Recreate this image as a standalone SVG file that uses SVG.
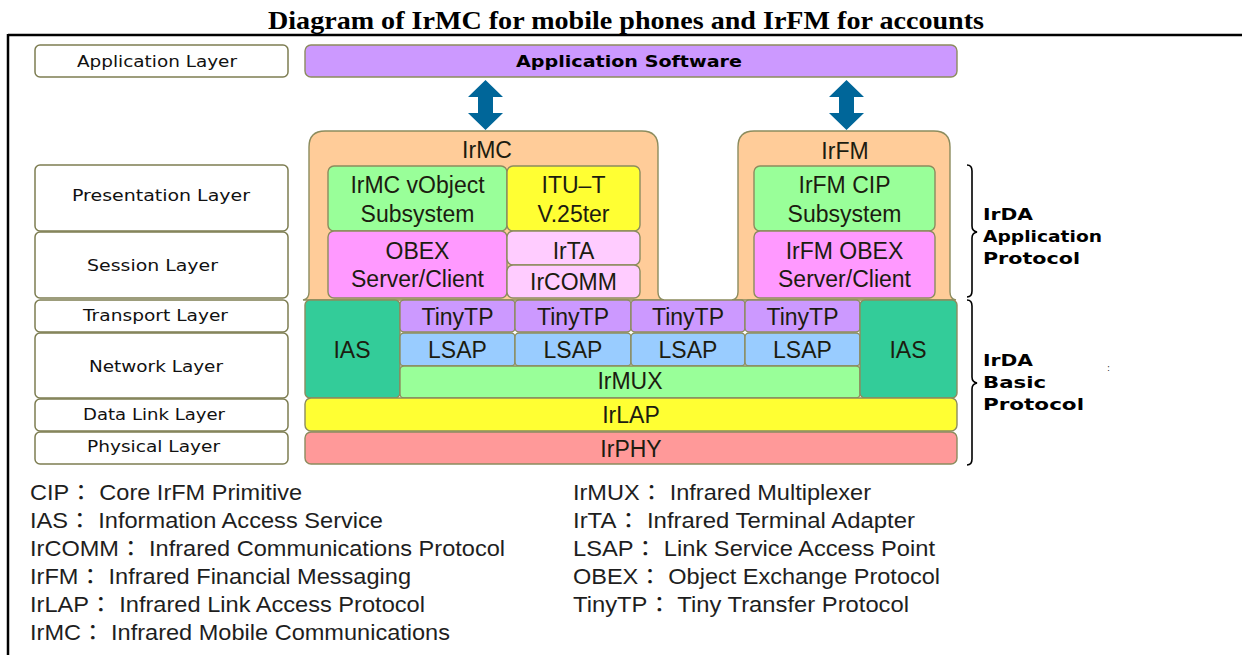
<svg xmlns="http://www.w3.org/2000/svg" width="1242" height="655" viewBox="0 0 1242 655">
  <defs>
    <style>
      .frame { stroke: #000; stroke-width: 2.5; fill: none; }
      .layer { fill: #fff; stroke: #7d7d52; stroke-width: 1.5; }
      .lbl { font-family: "DejaVu Sans", sans-serif; font-size: 15px; fill: #111; }
      .bold { font-family: "DejaVu Sans", sans-serif; font-weight: bold; font-size: 15px; fill: #000; }
      .box { stroke: #8c8c5e; stroke-width: 1.4; }
      .t { font-family: "Liberation Sans", Arial, sans-serif; font-size: 23px; fill: #1c1c10; text-anchor: middle; }
      .leg { font-family: "Liberation Sans", Arial, "Noto Sans CJK JP", sans-serif; font-size: 22px; fill: #1e1e1e; }
      .brace { fill: none; stroke: #000; stroke-width: 1.6; }
      .arrow { fill: #006699; }
      .purple { fill: #cc99ff; }
      .green { fill: #99ff99; }
      .yellow { fill: #ffff33; }
      .magenta { fill: #ff99ff; }
      .pink { fill: #ffccff; }
      .orange { fill: #ffcc99; }
      .teal { fill: #33cc99; }
      .blue { fill: #99ccff; }
      .salmon { fill: #ff9999; }
    </style>
  </defs>

  <!-- title and frame -->
  <text x="626" y="29" font-family="Liberation Serif, 'Times New Roman', serif" font-weight="bold" font-size="26" text-anchor="middle" textLength="716" lengthAdjust="spacingAndGlyphs">Diagram of IrMC for mobile phones and IrFM for accounts</text>
  <path class="frame" d="M8,35 H1242 M8,34 V655"/>

  <!-- OSI layer column -->
  <g id="layer-application"><rect class="layer" x="35" y="45" width="253" height="32" rx="5"/><text class="lbl" x="77" y="67" textLength="160" lengthAdjust="spacingAndGlyphs">Application Layer</text></g>
  <g id="layer-presentation"><rect class="layer" x="35" y="165" width="253" height="66" rx="5"/><text class="lbl" x="72" y="201" textLength="178" lengthAdjust="spacingAndGlyphs">Presentation Layer</text></g>
  <g id="layer-session"><rect class="layer" x="35" y="232" width="253" height="66" rx="5"/><text class="lbl" x="87" y="271" textLength="131" lengthAdjust="spacingAndGlyphs">Session Layer</text></g>
  <g id="layer-transport"><rect class="layer" x="35" y="300" width="253" height="32" rx="5"/><text class="lbl" x="83" y="321" textLength="145" lengthAdjust="spacingAndGlyphs">Transport Layer</text></g>
  <g id="layer-network"><rect class="layer" x="35" y="333" width="253" height="65" rx="5"/><text class="lbl" x="89" y="372" textLength="134" lengthAdjust="spacingAndGlyphs">Network Layer</text></g>
  <g id="layer-datalink"><rect class="layer" x="35" y="399" width="253" height="32" rx="5"/><text class="lbl" x="83" y="420" textLength="142" lengthAdjust="spacingAndGlyphs">Data Link Layer</text></g>
  <g id="layer-physical"><rect class="layer" x="35" y="432" width="253" height="32" rx="5"/><text class="lbl" x="87" y="452" textLength="133" lengthAdjust="spacingAndGlyphs">Physical Layer</text></g>

  <!-- application software bar -->
  <g id="app-software">
    <rect class="box purple" x="305" y="45" width="652" height="32" rx="6"/>
    <text class="bold" x="516" y="67" textLength="226" lengthAdjust="spacingAndGlyphs">Application Software</text>
  </g>

  <!-- vertical links between application software and the profiles -->
  <g id="connectors">
    <polygon class="arrow" points="485.5,80 503,97 493,97 493,113 503,113 485.5,130 468,113 478,113 478,97 468,97"/>
    <polygon class="arrow" points="846.5,80 864,97 854,97 854,113 864,113 846.5,130 829,113 839,113 839,97 829,97"/>
  </g>

  <!-- IrMC profile -->
  <g id="irmc">
    <path class="box orange" d="M303,300 Q309,299 309,292 V147 Q309,131 325,131 H642 Q658,131 658,147 V292 Q658,299 664,300 Z"/>
    <text class="t" x="487" y="158">IrMC</text>
  </g>
  <g id="irmc-vobject">
    <rect class="box green" x="328" y="166" width="179" height="65" rx="6"/>
    <text class="t" x="417.5" y="193">IrMC vObject</text>
    <text class="t" x="417.5" y="222">Subsystem</text>
  </g>
  <g id="itu-t">
    <rect class="box yellow" x="507" y="166" width="133" height="65" rx="6"/>
    <text class="t" x="573.5" y="193">ITU–T</text>
    <text class="t" x="573.5" y="222">V.25ter</text>
  </g>
  <g id="irmc-obex">
    <rect class="box magenta" x="328" y="231" width="179" height="67" rx="6"/>
    <text class="t" x="417.5" y="259">OBEX</text>
    <text class="t" x="417.5" y="287">Server/Client</text>
  </g>
  <g id="irta">
    <rect class="box pink" x="507" y="231" width="133" height="34" rx="6"/>
    <text class="t" x="573.5" y="259">IrTA</text>
  </g>
  <g id="ircomm">
    <rect class="box pink" x="507" y="265" width="133" height="33" rx="6"/>
    <text class="t" x="573.5" y="290">IrCOMM</text>
  </g>

  <!-- IrFM profile -->
  <g id="irfm">
    <path class="box orange" d="M732,300 Q738,299 738,292 V147 Q738,131 754,131 H934 Q950,131 950,147 V292 Q950,299 956,300 Z"/>
    <text class="t" x="845" y="159">IrFM</text>
  </g>
  <g id="irfm-cip">
    <rect class="box green" x="754" y="166" width="181" height="65" rx="6"/>
    <text class="t" x="844.5" y="193">IrFM CIP</text>
    <text class="t" x="844.5" y="222">Subsystem</text>
  </g>
  <g id="irfm-obex">
    <rect class="box magenta" x="754" y="231" width="181" height="67" rx="6"/>
    <text class="t" x="844.5" y="259">IrFM OBEX</text>
    <text class="t" x="844.5" y="287">Server/Client</text>
  </g>

  <!-- IrDA basic stack -->
  <g id="ias-left">
    <rect class="box teal" x="305" y="300" width="95" height="98" rx="5"/>
    <text class="t" x="352" y="358">IAS</text>
  </g>
  <g id="tinytp-1"><rect class="box purple" x="400" y="300" width="115" height="32" rx="4"/><text class="t" x="457.5" y="325">TinyTP</text></g>
  <g id="tinytp-2"><rect class="box purple" x="515" y="300" width="116" height="32" rx="4"/><text class="t" x="573" y="325">TinyTP</text></g>
  <g id="tinytp-3"><rect class="box purple" x="631" y="300" width="114" height="32" rx="4"/><text class="t" x="688" y="325">TinyTP</text></g>
  <g id="tinytp-4"><rect class="box purple" x="745" y="300" width="115" height="32" rx="4"/><text class="t" x="802.5" y="325">TinyTP</text></g>
  <g id="lsap-1"><rect class="box blue" x="400" y="333" width="115" height="33" rx="4"/><text class="t" x="457.5" y="358">LSAP</text></g>
  <g id="lsap-2"><rect class="box blue" x="515" y="333" width="116" height="33" rx="4"/><text class="t" x="573" y="358">LSAP</text></g>
  <g id="lsap-3"><rect class="box blue" x="631" y="333" width="114" height="33" rx="4"/><text class="t" x="688" y="358">LSAP</text></g>
  <g id="lsap-4"><rect class="box blue" x="745" y="333" width="115" height="33" rx="4"/><text class="t" x="802.5" y="358">LSAP</text></g>
  <g id="irmux"><rect class="box green" x="400" y="366" width="460" height="32" rx="4"/><text class="t" x="630" y="389">IrMUX</text></g>
  <g id="ias-right">
    <rect class="box teal" x="860" y="300" width="97" height="98" rx="5"/>
    <text class="t" x="908" y="358">IAS</text>
  </g>
  <g id="irlap"><rect class="box yellow" x="305" y="398" width="652" height="33" rx="6"/><text class="t" x="631" y="423">IrLAP</text></g>
  <g id="irphy"><rect class="box salmon" x="305" y="432" width="652" height="32" rx="6"/><text class="t" x="631" y="457">IrPHY</text></g>

  <!-- protocol group braces -->
  <g id="brace-application">
    <path class="brace" d="M967,165 Q972,165 972,171 V226 Q972,231 977,232 Q972,233 972,238 V291 Q972,297 967,297"/>
    <text class="bold" x="983" y="220" textLength="50" lengthAdjust="spacingAndGlyphs">IrDA</text>
    <text class="bold" x="983" y="242" textLength="119" lengthAdjust="spacingAndGlyphs">Application</text>
    <text class="bold" x="983" y="264" textLength="97" lengthAdjust="spacingAndGlyphs">Protocol</text>
  </g>
  <g id="brace-basic">
    <path class="brace" d="M967,300 Q972,300 972,306 V377 Q972,382 977,383 Q972,384 972,389 V459 Q972,465 967,465"/>
    <text class="bold" x="983" y="366" textLength="50" lengthAdjust="spacingAndGlyphs">IrDA</text>
    <text class="bold" x="983" y="388" textLength="63" lengthAdjust="spacingAndGlyphs">Basic</text>
    <text class="bold" x="983" y="410" textLength="101" lengthAdjust="spacingAndGlyphs">Protocol</text>
    <text x="1107" y="371" font-family="DejaVu Sans, sans-serif" font-size="9" fill="#333">:</text>
  </g>

  <!-- abbreviation legend -->
  <g id="legend">
    <text class="leg" x="30" y="500" textLength="272" lengthAdjust="spacingAndGlyphs">CIP： Core IrFM Primitive</text>
    <text class="leg" x="30" y="528" textLength="353" lengthAdjust="spacingAndGlyphs">IAS： Information Access Service</text>
    <text class="leg" x="30" y="556" textLength="475" lengthAdjust="spacingAndGlyphs">IrCOMM： Infrared Communications Protocol</text>
    <text class="leg" x="30" y="584" textLength="381" lengthAdjust="spacingAndGlyphs">IrFM： Infrared Financial Messaging</text>
    <text class="leg" x="30" y="612" textLength="395" lengthAdjust="spacingAndGlyphs">IrLAP： Infrared Link Access Protocol</text>
    <text class="leg" x="30" y="640" textLength="420" lengthAdjust="spacingAndGlyphs">IrMC： Infrared Mobile Communications</text>
    <text class="leg" x="573" y="500" textLength="298" lengthAdjust="spacingAndGlyphs">IrMUX： Infrared Multiplexer</text>
    <text class="leg" x="573" y="528" textLength="342" lengthAdjust="spacingAndGlyphs">IrTA： Infrared Terminal Adapter</text>
    <text class="leg" x="573" y="556" textLength="362" lengthAdjust="spacingAndGlyphs">LSAP： Link Service Access Point</text>
    <text class="leg" x="573" y="584" textLength="367" lengthAdjust="spacingAndGlyphs">OBEX： Object Exchange Protocol</text>
    <text class="leg" x="573" y="612" textLength="336" lengthAdjust="spacingAndGlyphs">TinyTP： Tiny Transfer Protocol</text>
  </g>
</svg>
